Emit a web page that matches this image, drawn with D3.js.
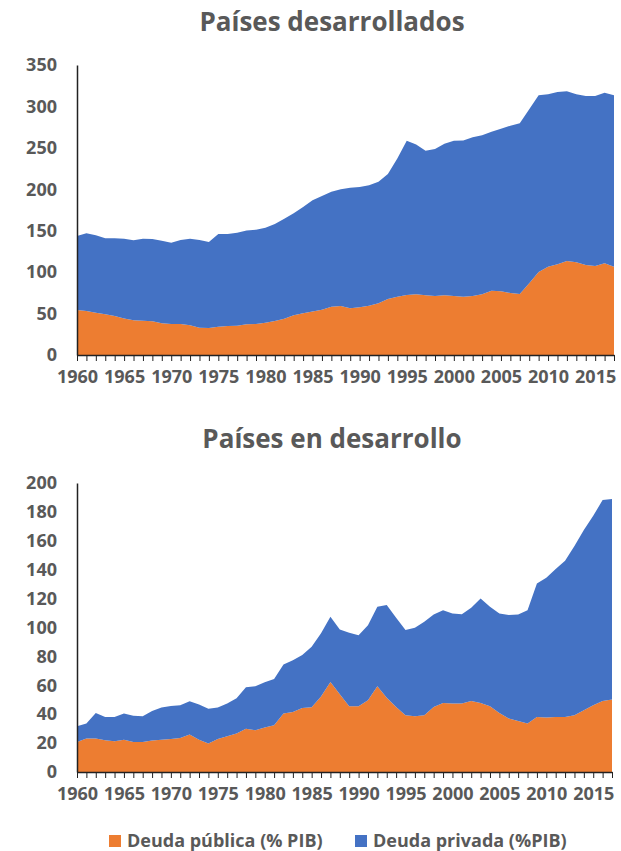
<!DOCTYPE html>
<html>
<head>
<meta charset="utf-8">
<script src="https://cdn.jsdelivr.net/npm/d3@7"></script>
<style>
  body { margin: 0; background: #fff; }
  svg text { font-family: "Open Sans", sans-serif; font-weight: bold; fill: #595959; }
</style>
</head>
<body>
<div id="chart"></div>
<script>
// años 1960-2017
let years = d3.range(1960, 2018);

// Países desarrollados
let pubDev = [54.3, 53.1, 51.1, 49.1, 47.1, 44.2, 41.8, 41.4, 40.6, 38.2,
  37.4, 37.4, 35.8, 33.0, 32.6, 34.2, 35.0, 35.4, 37.0, 37.4,
  39.0, 41.0, 43.8, 47.9, 50.3, 52.5, 54.7, 58.3, 59.1, 56.3,
  57.5, 59.5, 62.4, 67.6, 70.4, 72.4, 73.2, 72.0, 71.2, 72.0,
  71.2, 70.4, 71.2, 73.2, 77.6, 76.8, 74.8, 73.6, 86.5, 100.2,
  106.6, 109.4, 113.4, 111.8, 108.6, 107.4, 110.6, 106.6];
let privDev = [89.3, 93.7, 93.3, 91.7, 93.7, 96.2, 96.6, 99.0, 99.4, 99.8,
  98.2, 101.4, 104.6, 105.8, 103.8, 111.8, 111.0, 112.2, 113.4, 113.8,
  114.7, 117.0, 120.7, 123.1, 128.3, 134.3, 137.2, 138.7, 140.9, 145.7,
  145.2, 145.5, 146.6, 150.8, 166.9, 186.2, 181.0, 174.6, 177.4, 183.0,
  187.4, 188.5, 191.5, 191.9, 191.9, 196.3, 202.0, 206.0, 210.0, 213.2,
  208.0, 208.0, 204.8, 202.8, 204.0, 205.2, 206.0, 206.8];

// Países en desarrollo
let pubEm = [20.8, 23.1, 23.1, 22.0, 21.3, 22.4, 20.8, 20.8, 21.8, 22.4,
  22.9, 23.6, 25.9, 22.4, 19.7, 22.9, 24.7, 26.6, 30.0, 28.9,
  30.8, 32.4, 40.5, 41.6, 44.3, 44.8, 52.2, 62.3, 53.8, 45.5,
  45.5, 49.7, 59.4, 51.3, 45.0, 39.3, 38.6, 39.3, 45.0, 47.8,
  47.4, 47.4, 49.2, 47.8, 45.5, 40.9, 37.0, 35.3, 33.5, 38.1,
  37.7, 38.1, 38.1, 39.3, 42.7, 46.2, 49.2, 50.1];
let privEm = [10.9, 10.4, 17.8, 16.1, 16.8, 18.0, 18.2, 17.8, 20.5, 22.2,
  22.8, 22.6, 23.1, 24.3, 24.0, 21.7, 22.7, 24.5, 28.7, 30.5,
  31.3, 32.0, 33.9, 35.8, 36.7, 41.8, 43.8, 45.1, 44.8, 50.8,
  49.2, 51.9, 54.9, 64.2, 61.7, 58.9, 61.2, 64.6, 64.0, 64.2,
  62.3, 61.8, 64.4, 72.3, 68.8, 68.8, 71.6, 73.7, 78.5, 92.4,
  96.7, 102.3, 108.1, 117.1, 124.7, 131.1, 139.0, 138.8];

let seriesNames = ["Deuda pública (% PIB)", "Deuda privada (%PIB)"];
let colors = ["#ED7D31", "#4472C4"];
let devTicks = [0, 50, 100, 150, 200, 250, 300, 350];
let emTicks = [0, 20, 40, 60, 80, 100, 120, 140, 160, 180, 200];

let width = 621, height = 851;

let svg = d3.select('#chart')
  .append('svg')
  .attr('width', width)
  .attr('height', height);

function drawPanel(title, pub, priv, ticks, box) {
  let rows = years.map(function (y, i) {
    return { year: y, pub: pub[i], priv: priv[i] };
  });
  let stack = d3.stack().keys(["pub", "priv"])(rows);

  let x = d3.scaleLinear()
    .domain([1960, 2017])
    .range([box.left, box.right]);
  let y = d3.scaleLinear()
    .domain([0, d3.max(ticks)])
    .range([box.bottom, box.top]);

  svg.append('text')
    .attr('x', 332)
    .attr('y', box.titleY)
    .attr('text-anchor', 'middle')
    .style('font-size', '26px')
    .text(title);

  let area = d3.area()
    .x(function (d) { return x(d.data.year); })
    .y0(function (d) { return y(d[0]); })
    .y1(function (d) { return y(d[1]); });

  svg.append('g')
    .selectAll('path')
    .data(stack)
    .enter()
    .append('path')
    .attr('d', area)
    .attr('fill', function (d, i) { return colors[i]; });

  // eje Y
  let yAxis = d3.axisLeft(y)
    .tickValues(ticks)
    .tickSize(0)
    .tickPadding(20);
  let gy = svg.append('g')
    .attr('transform', 'translate(' + box.left + ',0)')
    .call(yAxis);
  gy.select('.domain').attr('stroke', '#222').attr('stroke-width', 1.5);
  gy.selectAll('text')
    .style('font-size', '18px')
    .style('font-family', '"Open Sans", sans-serif');

  // eje X: marca por año, etiqueta cada 5
  let xAxis = d3.axisBottom(x)
    .tickValues(years)
    .tickSize(6)
    .tickSizeOuter(0)
    .tickPadding(9)
    .tickFormat(function (d) { return d % 5 === 0 ? d : ''; });
  let gx = svg.append('g')
    .attr('transform', 'translate(0,' + box.bottom + ')')
    .call(xAxis);
  gx.select('.domain').attr('stroke', '#222').attr('stroke-width', 1.5);
  gx.selectAll('line').attr('stroke', '#222');
  gx.selectAll('text')
    .style('font-size', '18px')
    .style('font-family', '"Open Sans", sans-serif');
}

drawPanel("Países desarrollados", pubDev, privDev, devTicks,
  { left: 77, right: 614, top: 65, bottom: 355, titleY: 31 });
drawPanel("Países en desarrollo", pubEm, privEm, emTicks,
  { left: 77, right: 612, top: 483, bottom: 772, titleY: 448 });

// leyenda
let legendX = [109, 355];
let legend = svg.append('g');
seriesNames.forEach(function (name, i) {
  legend.append('rect')
    .attr('x', legendX[i])
    .attr('y', 835)
    .attr('width', 12)
    .attr('height', 12)
    .attr('fill', colors[i]);
  legend.append('text')
    .attr('x', legendX[i] + 18)
    .attr('y', 847)
    .style('font-size', '18px')
    .text(name);
});
</script>
</body>
</html>
